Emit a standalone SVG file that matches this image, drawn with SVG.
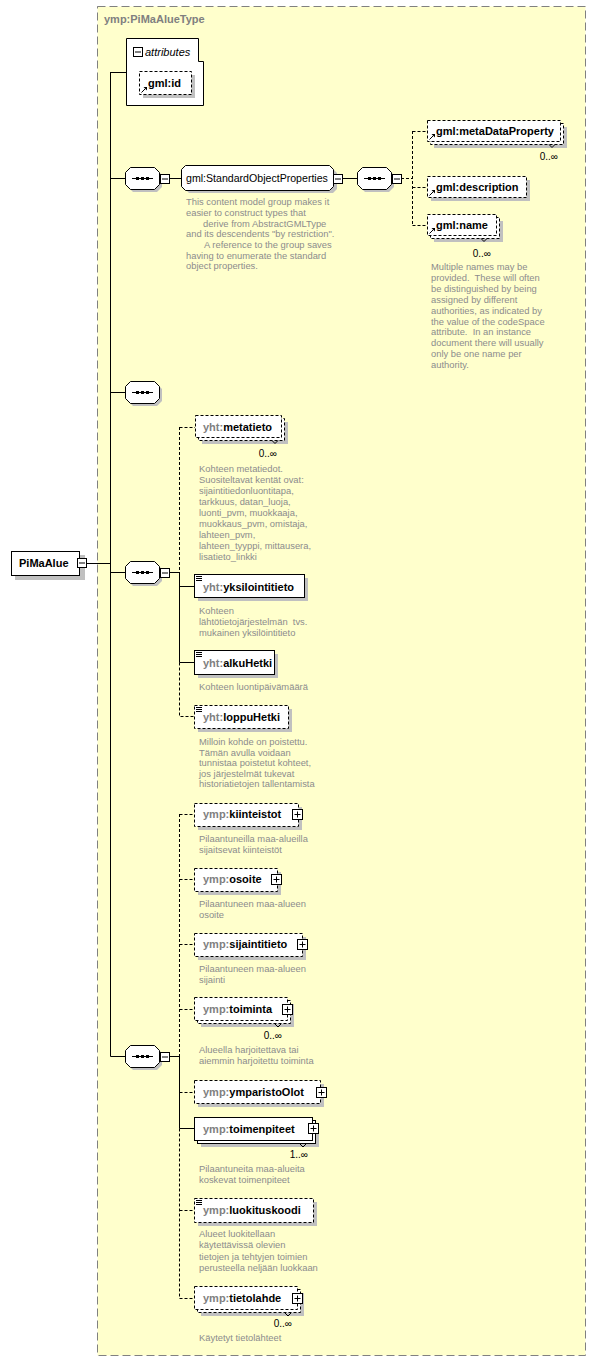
<svg xmlns="http://www.w3.org/2000/svg" width="596" height="1361" viewBox="0 0 596 1361">
<style>
.sh{fill:#c0c0c0}
.bx{fill:#fff;stroke:#000}
.d{stroke-dasharray:3,2}
.n{font-family:"Liberation Sans",Arial,sans-serif;font-size:11px;font-weight:bold;fill:#000}
.r{font-family:"Liberation Sans",Arial,sans-serif;font-size:10.6px;fill:#000}
.p{fill:#808080}
.a{font-family:"Liberation Sans",Arial,sans-serif;font-size:9.4px;fill:#8c8c8c}
.c{font-family:"Liberation Sans",Arial,sans-serif;font-size:10px;fill:#000;text-anchor:end}
.ln{stroke:#000;fill:none}
.tk{stroke:#000;fill:none}
</style>
<defs>
<g id="seq">
<path class="sh" d="M8 3H32L37 8V20L32 25H8L3 20V8Z"/>
<path class="bx" d="M5.5 0.5H29.5L34.5 5.5V17.5L29.5 22.5H5.5L0.5 17.5V5.5Z"/>
<line x1="7" y1="11.5" x2="28" y2="11.5" stroke="#000"/>
<rect x="11" y="10" width="3" height="3"/><rect x="16" y="10" width="3" height="3"/><rect x="21" y="10" width="3" height="3"/>
</g>
<g id="minus"><rect x="0.5" y="0.5" width="9" height="9" fill="#fff" stroke="#000"/><line x1="2" y1="5" x2="8" y2="5" stroke="#000"/></g>
<g id="plus"><rect x="0.5" y="0.5" width="10" height="10" fill="#fff" stroke="#000"/><path d="M2.5 5.5H8.5M5.5 2.5V8.5" stroke="#000"/></g>
<g id="ico"><path d="M0 0.5H6M0 2.5H6M0 4.5H6" stroke="#000"/></g>
<g id="ref"><path d="M0.5 6.5L4.5 2.5" stroke="#000"/><path d="M2.5 1H6V4.5Z" fill="#000"/></g>
</defs>
<rect width="596" height="1361" fill="#fff"/>
<rect x="97.5" y="6.5" width="488" height="1349" fill="#FFFFCC" stroke="#808080" stroke-dasharray="8,4"/>
<text x="104" y="23" class="n p">ymp:PiMaAlueType</text>

<g id="connectors">
<path class="ln" d="M86 563.5H110.5M110.5 72V1056.5M110.5 72.5H126M110.5 178.5H125M110.5 392.5H125M110.5 572.5H125M110.5 1056.5H125"/>
<path class="ln" d="M169 178.5H181M342 178.5H357"/>
<path class="ln d" d="M401 178.5H412.5M412.5 131V225.5M412.5 131.5H427M412.5 187.5H427M412.5 225.5H427"/>
<path class="ln" d="M169 572.5H179.5M179.5 572V662.5M179.5 586.5H194M179.5 662.5H194"/>
<path class="ln d" d="M179.5 427V572M179.5 427.5H195M179.5 662.5V716.5H194"/>
<path class="ln" d="M169 1056.5H179.5M179.5 1056V1128.5M179.5 1128.5H194"/>
<path class="ln d" d="M179.5 814V1056M179.5 1128.5V1298.5M179.5 814.5H194M179.5 879.5H194M179.5 944.5H194M179.5 1009.5H194M179.5 1092.5H194M179.5 1210.5H194M179.5 1298.5H194"/>
</g>

<g id="PiMaAlue">
<rect class="sh" x="15" y="555" width="70" height="25"/>
<rect class="bx" x="11.5" y="551.5" width="68" height="24"/>
<text x="19" y="567" class="n">PiMaAlue</text>
<use href="#minus" x="77" y="558"/>
</g>

<g id="attributes">
<path class="bx" d="M126.5 38.5H198.5V61.5H203.5V105.5H126.5Z"/>
<use href="#minus" x="133" y="47"/>
<text x="145" y="56" font-family="Liberation Sans, Arial, sans-serif" font-size="11" font-style="italic">attributes</text>
</g>
<g id="gml-id">
<rect class="sh" x="143" y="75" width="52" height="23"/>
<rect class="bx d" x="139.5" y="71.5" width="52" height="23"/>
<use href="#ref" x="141" y="86"/>
<text x="148" y="87" class="n">gml:id</text>
</g>

<g id="seq1"><use href="#seq" x="125" y="167"/><use href="#minus" x="160" y="174"/></g>

<g id="StandardObjectProperties">
<path class="sh" d="M189 169H333L337 173V189L333 193H189L185 189V173Z"/>
<path class="bx" d="M185.5 165.5H329.5L333.5 169.5V186.5L329.5 190.5H185.5L181.5 186.5V169.5Z"/>
<text x="186" y="182" class="r">gml:StandardObjectProperties</text>
<use href="#minus" x="333" y="174"/>
<text class="a"><tspan x="186" y="205">This content model group makes it</tspan><tspan x="186" y="216">easier to construct types that</tspan><tspan x="203" y="226.5">derive from AbstractGMLType</tspan><tspan x="186" y="237">and its descendents "by restriction".</tspan><tspan x="204" y="248">A reference to the group saves</tspan><tspan x="186" y="258.5">having to enumerate the standard</tspan><tspan x="186" y="269">object properties.</tspan></text>
</g>

<g id="seq-sop"><use href="#seq" x="357" y="167"/><use href="#minus" x="392" y="174"/></g>

<g id="gml-metaDataProperty">
<rect class="sh" x="434" y="127" width="133" height="21"/>
<rect class="bx d" x="430.5" y="123.5" width="133" height="21"/>
<rect class="bx d" x="427.5" y="120.5" width="133" height="21"/>
<use href="#ref" x="429" y="133"/>
<text x="436" y="135" class="n">gml:metaDataProperty</text>
<path class="tk" d="M549 144.5L552 147.5L555 144.5"/>
<text x="558" y="160" class="c">0..∞</text>
</g>
<g id="gml-description">
<rect class="sh" x="431" y="180" width="99" height="21"/>
<rect class="bx d" x="427.5" y="176.5" width="99" height="21"/>
<use href="#ref" x="429" y="189"/>
<text x="436" y="191" class="n">gml:description</text>
</g>
<g id="gml-name">
<rect class="sh" x="434" y="221" width="69" height="21"/>
<rect class="bx d" x="430.5" y="217.5" width="69" height="21"/>
<rect class="bx d" x="427.5" y="214.5" width="69" height="21"/>
<use href="#ref" x="429" y="227"/>
<text x="436" y="229" class="n">gml:name</text>
<path class="tk" d="M481 238.5L484 241.5L487 238.5"/>
<text x="491" y="257" class="c">0..∞</text>
<text class="a" xml:space="preserve"><tspan x="431" y="270">Multiple names may be</tspan><tspan x="431" y="281">provided.  These will often</tspan><tspan x="431" y="291.8">be distinguished by being</tspan><tspan x="431" y="302.7">assigned by different</tspan><tspan x="431" y="313.6">authorities, as indicated by</tspan><tspan x="431" y="324.5">the value of the codeSpace</tspan><tspan x="431" y="335.4">attribute.  In an instance</tspan><tspan x="431" y="346.3">document there will usually</tspan><tspan x="431" y="357.2">only be one name per</tspan><tspan x="431" y="368">authority.</tspan></text>
</g>

<g id="seq2"><use href="#seq" x="125" y="381"/></g>
<g id="seq3"><use href="#seq" x="125" y="561"/><use href="#minus" x="160" y="568"/></g>

<g id="yht-metatieto">
<rect class="sh" x="202" y="422" width="86" height="22"/>
<rect class="bx d" x="198.5" y="418.5" width="86" height="22"/>
<rect class="bx d" x="195.5" y="415.5" width="86" height="22"/>
<text x="203" y="431" class="n"><tspan class="p">yht:</tspan>metatieto</text>
<path class="tk" d="M272 440.5L275 443.5L278 440.5"/>
<text x="277" y="457" class="c">0..∞</text>
<text class="a"><tspan x="199" y="472">Kohteen metatiedot.</tspan><tspan x="199" y="483">Suositeltavat kentät ovat:</tspan><tspan x="199" y="494">sijaintitiedonluontitapa,</tspan><tspan x="199" y="505">tarkkuus, datan_luoja,</tspan><tspan x="199" y="516">luonti_pvm, muokkaaja,</tspan><tspan x="199" y="527">muokkaus_pvm, omistaja,</tspan><tspan x="199" y="538">lahteen_pvm,</tspan><tspan x="199" y="549">lahteen_tyyppi, mittausera,</tspan><tspan x="199" y="560">lisatieto_linkki</tspan></text>
</g>
<g id="yht-yksilointitieto">
<rect class="sh" x="198" y="578" width="110" height="23"/>
<rect class="bx" x="194.5" y="574.5" width="110" height="23"/>
<use href="#ico" x="196" y="576"/>
<text x="203" y="591" class="n"><tspan class="p">yht:</tspan>yksilointitieto</text>
<text class="a" xml:space="preserve"><tspan x="199" y="614">Kohteen</tspan><tspan x="199" y="625">lähtötietojärjestelmän  tvs.</tspan><tspan x="199" y="636">mukainen yksilöintitieto</tspan></text>
</g>
<g id="yht-alkuHetki">
<rect class="sh" x="198" y="654" width="80" height="24"/>
<rect class="bx" x="194.5" y="650.5" width="80" height="24"/>
<use href="#ico" x="196" y="652"/>
<text x="203" y="667" class="n"><tspan class="p">yht:</tspan>alkuHetki</text>
<text x="199" y="690" class="a">Kohteen luontipäivämäärä</text>
</g>
<g id="yht-loppuHetki">
<rect class="sh" x="198" y="709" width="94" height="23"/>
<rect class="bx d" x="194.5" y="705.5" width="94" height="23"/>
<use href="#ico" x="196" y="707"/>
<text x="203" y="721" class="n"><tspan class="p">yht:</tspan>loppuHetki</text>
<text class="a"><tspan x="199" y="745">Milloin kohde on poistettu.</tspan><tspan x="199" y="755.5">Tämän avulla voidaan</tspan><tspan x="199" y="766">tunnistaa poistetut kohteet,</tspan><tspan x="199" y="776.5">jos järjestelmät tukevat</tspan><tspan x="199" y="787">historiatietojen tallentamista</tspan></text>
</g>

<g id="seq4"><use href="#seq" x="125" y="1045"/><use href="#minus" x="160" y="1052"/></g>

<g id="ymp-kiinteistot">
<rect class="sh" x="198" y="807" width="104" height="23"/>
<rect class="bx d" x="194.5" y="803.5" width="104" height="23"/>
<text x="203" y="818" class="n"><tspan class="p">ymp:</tspan>kiinteistot</text>
<use href="#plus" x="292" y="809"/>
<text class="a"><tspan x="199" y="842">Pilaantuneilla maa-alueilla</tspan><tspan x="199" y="853">sijaitsevat kiinteistöt</tspan></text>
</g>
<g id="ymp-osoite">
<rect class="sh" x="198" y="872" width="83" height="23"/>
<rect class="bx d" x="194.5" y="868.5" width="83" height="23"/>
<text x="203" y="883" class="n"><tspan class="p">ymp:</tspan>osoite</text>
<use href="#plus" x="271" y="874"/>
<text class="a"><tspan x="199" y="907">Pilaantuneen maa-alueen</tspan><tspan x="199" y="918">osoite</tspan></text>
</g>
<g id="ymp-sijaintitieto">
<rect class="sh" x="198" y="937" width="108" height="23"/>
<rect class="bx d" x="194.5" y="933.5" width="108" height="23"/>
<text x="203" y="948" class="n"><tspan class="p">ymp:</tspan>sijaintitieto</text>
<use href="#plus" x="297" y="939"/>
<text class="a"><tspan x="199" y="972">Pilaantuneen maa-alueen</tspan><tspan x="199" y="983">sijainti</tspan></text>
</g>
<g id="ymp-toiminta">
<rect class="sh" x="201" y="1004" width="93" height="23"/>
<rect class="bx d" x="197.5" y="1000.5" width="93" height="23"/>
<rect class="bx d" x="194.5" y="997.5" width="93" height="23"/>
<text x="203" y="1013" class="n"><tspan class="p">ymp:</tspan>toiminta</text>
<use href="#plus" x="282" y="1004"/>
<path class="tk" d="M275 1024L278 1027L281 1024"/>
<text x="282" y="1039" class="c">0..∞</text>
<text class="a"><tspan x="199" y="1053">Alueella harjoitettava tai</tspan><tspan x="199" y="1064">aiemmin harjoitettu toiminta</tspan></text>
</g>
<g id="ymp-ymparistoOlot">
<rect class="sh" x="198" y="1084" width="126" height="23"/>
<rect class="bx d" x="194.5" y="1080.5" width="126" height="23"/>
<text x="203" y="1096" class="n"><tspan class="p">ymp:</tspan>ymparistoOlot</text>
<use href="#plus" x="316" y="1087"/>
</g>
<g id="ymp-toimenpiteet">
<rect class="sh" x="201" y="1124" width="118" height="23"/>
<rect class="bx" x="197.5" y="1120.5" width="118" height="23"/>
<rect class="bx" x="194.5" y="1117.5" width="118" height="23"/>
<text x="203" y="1133" class="n"><tspan class="p">ymp:</tspan>toimenpiteet</text>
<use href="#plus" x="308" y="1123"/>
<path class="tk" d="M300 1144L303 1147L306 1144"/>
<text x="308" y="1158" class="c">1..∞</text>
<text class="a"><tspan x="199" y="1172">Pilaantuneita maa-alueita</tspan><tspan x="199" y="1183">koskevat toimenpiteet</tspan></text>
</g>
<g id="ymp-luokituskoodi">
<rect class="sh" x="198" y="1202" width="119" height="24"/>
<rect class="bx d" x="194.5" y="1198.5" width="119" height="24"/>
<use href="#ico" x="196" y="1200"/>
<text x="203" y="1214" class="n"><tspan class="p">ymp:</tspan>luokituskoodi</text>
<text class="a"><tspan x="199" y="1237">Alueet luokitellaan</tspan><tspan x="199" y="1248.3">käytettävissä olevien</tspan><tspan x="199" y="1259.6">tietojen ja tehtyjen toimien</tspan><tspan x="199" y="1271">perusteella neljään luokkaan</tspan></text>
</g>
<g id="ymp-tietolahde">
<rect class="sh" x="201" y="1293" width="103" height="23"/>
<rect class="bx d" x="197.5" y="1289.5" width="103" height="23"/>
<rect class="bx d" x="194.5" y="1286.5" width="103" height="23"/>
<text x="203" y="1302" class="n"><tspan class="p">ymp:</tspan>tietolahde</text>
<use href="#plus" x="292" y="1293"/>
<path class="tk" d="M285 1313L288 1316L291 1313"/>
<text x="292" y="1327" class="c">0..∞</text>
<text x="199" y="1341" class="a">Käytetyt tietolähteet</text>
</g>
</svg>
